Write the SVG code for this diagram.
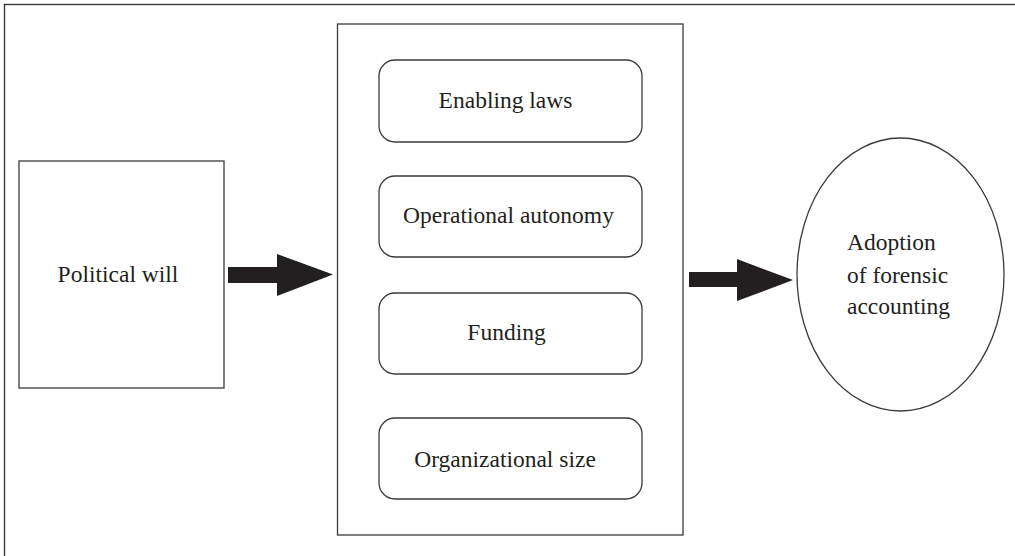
<svg xmlns="http://www.w3.org/2000/svg" width="1015" height="556" viewBox="0 0 1015 556">
  <style>
    .frame { fill: none; stroke: #3a3a3a; stroke-width: 1.4; }
    .box { fill: #ffffff; stroke: #3a3a3a; stroke-width: 1.3; }
    .label { font-family: "Liberation Serif", "Times New Roman", serif; font-size: 23.5px; fill: #231f20; }
    .arrow { fill: #231f20; stroke: none; }
  </style>

  <rect width="1015" height="556" fill="#ffffff"/>
  <!-- outer frame (right and bottom edges run off the canvas) -->
  <rect class="frame" x="4.5" y="4.5" width="1030" height="570"/>

  <g id="political-will">
    <rect class="box" x="19" y="161" width="205" height="227"/>
    <text class="label" x="118" y="282" text-anchor="middle">Political will</text>
  </g>

  <g id="factors">
    <rect class="box" x="337.5" y="24" width="345.5" height="511"/>
    <g id="enabling-laws">
      <rect class="box" x="379" y="60" width="263" height="82" rx="16" ry="16"/>
      <text class="label" x="505.5" y="108" text-anchor="middle">Enabling laws</text>
    </g>
    <g id="operational-autonomy">
      <rect class="box" x="379" y="176" width="263" height="81" rx="16" ry="16"/>
      <text class="label" x="508.5" y="223" text-anchor="middle">Operational autonomy</text>
    </g>
    <g id="funding">
      <rect class="box" x="379" y="293" width="263" height="81" rx="16" ry="16"/>
      <text class="label" x="506.5" y="340" text-anchor="middle">Funding</text>
    </g>
    <g id="organizational-size">
      <rect class="box" x="379" y="418" width="263" height="81" rx="16" ry="16"/>
      <text class="label" x="505" y="467" text-anchor="middle">Organizational size</text>
    </g>
  </g>

  <g id="adoption">
    <ellipse class="box" cx="900.5" cy="274.5" rx="103.5" ry="136.5"/>
    <text class="label" x="847" y="250">Adoption</text>
    <text class="label" x="847" y="283">of forensic</text>
    <text class="label" x="847" y="314">accounting</text>
  </g>

  <g id="connectors">
    <polygon class="arrow" points="228,267 277,267 277,254 333,274.5 277,296 277,283 228,283"/>
    <polygon class="arrow" points="689,272 737,272 737,259 793,280 737,301 737,287 689,287"/>
  </g>
</svg>
